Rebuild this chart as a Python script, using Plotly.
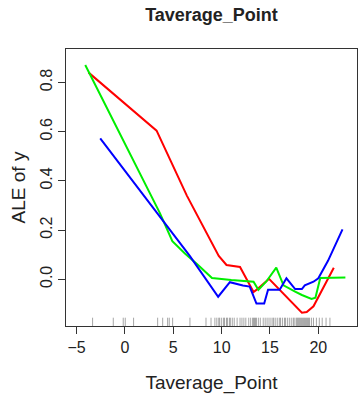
import plotly.graph_objects as go

# ALE curves for Taverage_Point (three fitted models)
red_x = [-3.76, 3.27, 6.4, 9.7, 10.5, 11.9, 13.3, 13.8, 14.9, 18.3, 18.8, 19.5, 21.6]
red_y = [0.84, 0.604, 0.34, 0.095, 0.058, 0.05, -0.052, -0.037, 0.002, -0.136, -0.133, -0.11, 0.047]

green_x = [-4.11, 3.6, 4.9, 6.2, 7.5, 9.0, 11.0, 13.3, 13.8, 14.6, 15.65, 16.4, 17.6, 18.3, 19.3, 19.7, 20.2, 22.8]
green_y = [0.871, 0.27, 0.155, 0.105, 0.06, 0.005, -0.003, -0.01, -0.043, -0.01, 0.047, -0.025, -0.05, -0.064, -0.08, -0.075, 0.005, 0.007]

blue_x = [-2.56, 6.7, 9.64, 10.85, 12.2, 12.9, 13.6, 14.4, 14.8, 16.0, 16.7, 17.6, 18.3, 18.6, 19.5, 20.0, 21.0, 22.5]
blue_y = [0.573, 0.095, -0.071, -0.012, -0.025, -0.03, -0.099, -0.099, -0.043, -0.043, 0.004, -0.04, -0.04, -0.025, -0.01, 0.004, 0.075, 0.203]

# observed predictor values shown as a rug
rug_x = [-3.35, -1.21, -0.18, 0.03, 0.89, 3.38, 3.9, 4.41, 4.58, 4.93, 6.72, 8.38, 8.9,
         9.3, 9.5, 9.7, 9.8, 10.0, 10.2, 10.3, 10.5, 10.6, 10.8, 10.9, 11.1, 11.3, 11.6,
         11.9, 12.1, 12.3, 12.5, 12.8, 13.0, 13.2, 13.3, 13.4, 13.5, 13.6, 13.8, 14.0,
         14.3, 14.5, 14.7, 14.9, 15.1, 15.3, 15.4, 15.6, 15.8, 16.0, 16.1, 16.3, 16.5,
         16.6, 16.8, 17.0, 17.2, 17.4, 17.5, 17.7, 17.8, 17.9, 18.0, 18.1, 18.2, 18.3,
         18.4, 18.5, 18.6, 18.7, 18.8, 18.9, 19.0, 19.1, 19.3, 19.5, 19.8, 20.1, 20.4,
         20.8, 21.2]

x_ticks = [-5, 0, 5, 10, 15, 20]
y_ticks = [0.0, 0.2, 0.4, 0.6, 0.8]
y_tick_text = ["0.0", "0.2", "0.4", "0.6", "0.8"]

X_RANGE = [-6.1, 24.0]
Y_RANGE = [-0.19, 0.936]
RUG_TOP = Y_RANGE[0] + 0.03 * (Y_RANGE[1] - Y_RANGE[0])

rx, ry = [], []
for v in rug_x:
    rx += [v, v, None]
    ry += [Y_RANGE[0], RUG_TOP, None]

fig = go.Figure()
fig.add_trace(go.Scatter(x=rx, y=ry, mode="lines", line=dict(color="rgba(0,0,0,0.35)", width=1),
                         hoverinfo="skip", showlegend=False))
for xs, ys, col in [(red_x, red_y, "#ff0000"), (green_x, green_y, "#00ee00"), (blue_x, blue_y, "#0000ff")]:
    fig.add_trace(go.Scatter(x=xs, y=ys, mode="lines", line=dict(color=col, width=2), showlegend=False))

font = "Liberation Sans, Arial, sans-serif"
fig.update_layout(
    width=361, height=398,
    margin=dict(l=66, r=4, t=49, b=72),
    paper_bgcolor="white", plot_bgcolor="white",
    font=dict(family=font, size=16, color="#222"),
    title=dict(text="<b>Taverage_Point</b>", x=0.5, xref="paper", xanchor="center",
               y=1 - 15 / 398, yref="container", yanchor="middle",
               font=dict(size=18, family=font, color="#222")),
    xaxis=dict(range=X_RANGE, tickvals=x_ticks, showgrid=False, zeroline=False,
               showline=True, mirror=True, linecolor="#333", linewidth=1,
               ticks="outside", ticklen=7, tickcolor="#333",
               title=dict(text="Taverage_Point", standoff=20)),
    yaxis=dict(range=Y_RANGE, tickvals=y_ticks, ticktext=y_tick_text, tickangle=-90,
               showgrid=False, zeroline=False,
               showline=True, mirror=True, linecolor="#333", linewidth=1,
               ticks="outside", ticklen=7, tickcolor="#333",
               title=dict(text="ALE of y", standoff=6)),
)

fig.write_html("out.html")
